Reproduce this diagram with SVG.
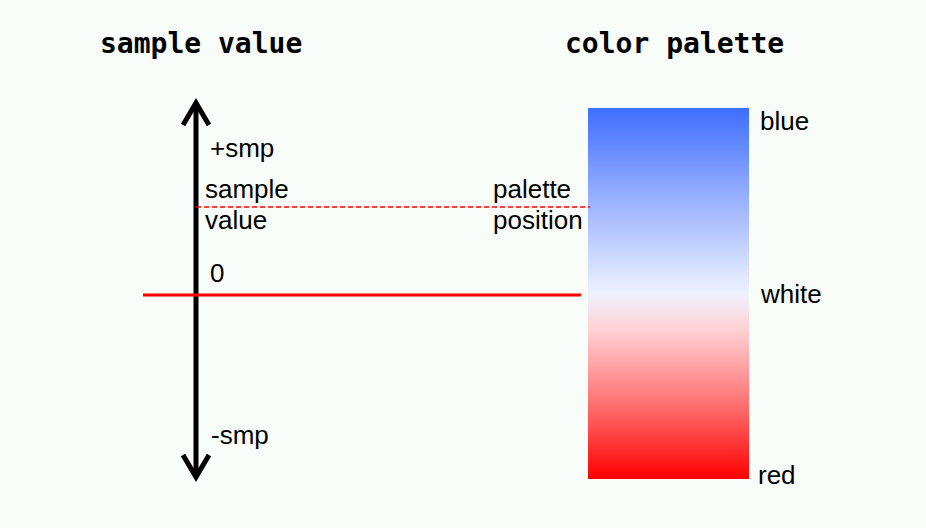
<svg xmlns="http://www.w3.org/2000/svg" width="926" height="528" viewBox="0 0 926 528">
<style>
.title{font-family:"DejaVu Sans Mono",monospace;font-weight:bold;font-size:28px;fill:#000}
.lbl{font-family:"Liberation Sans",Arial,sans-serif;font-size:26px;fill:#000}
</style>
<defs>
<linearGradient id="pal" x1="0" y1="0" x2="0" y2="1">
<stop offset="0" stop-color="#3f6eff"/>
<stop offset="0.25" stop-color="#9ab2ff"/>
<stop offset="0.5" stop-color="#eef2ff"/>
<stop offset="0.6" stop-color="#ffd0d4"/>
<stop offset="0.8" stop-color="#ff7070"/>
<stop offset="1" stop-color="#ff0000"/>
</linearGradient>
</defs>
<rect width="926" height="528" fill="#f8fdf9"/>
<g id="titles">
<text class="title" x="100" y="53">sample value</text>
<text class="title" x="565" y="53">color palette</text>
</g>
<g id="palette">
<rect x="588" y="108" width="161" height="371" fill="url(#pal)"/>
<text class="lbl" x="760" y="130">blue</text>
<text class="lbl" x="761" y="303">white</text>
<text class="lbl" x="758" y="484">red</text>
</g>
<g id="axis">
<line x1="196" y1="103" x2="196" y2="477" stroke="#000" stroke-width="5"/>
<polyline points="183,125 196,103 209,125" fill="none" stroke="#000" stroke-width="5" stroke-linejoin="miter"/>
<polyline points="183,455 196,477 209,455" fill="none" stroke="#000" stroke-width="5" stroke-linejoin="miter"/>
<text class="lbl" x="210" y="157">+smp</text>
<text class="lbl" x="205" y="198">sample</text>
<text class="lbl" x="205" y="229">value</text>
<text class="lbl" x="210" y="282">0</text>
<text class="lbl" x="211" y="444">-smp</text>
</g>
<g id="connectors">
<line x1="143" y1="295" x2="581" y2="295" stroke="#ff0000" stroke-width="3"/>
<line x1="196" y1="207" x2="590" y2="207" stroke="#ff0000" stroke-width="1.5" stroke-dasharray="5,3"/>
</g>
<g id="palpos">
<text class="lbl" x="493" y="198">palette</text>
<text class="lbl" x="493" y="229">position</text>
</g>
</svg>
